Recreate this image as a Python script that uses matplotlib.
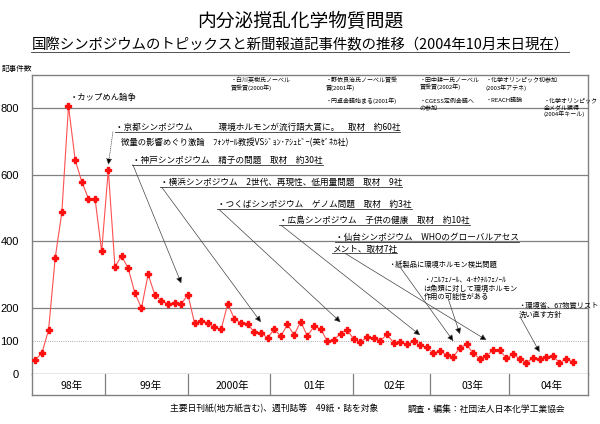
import matplotlib
matplotlib.use('Agg')
import matplotlib.pyplot as plt
from matplotlib.lines import Line2D

# 日本語フォント
plt.rcParams['font.family'] = ['Noto Sans CJK JP', 'DejaVu Sans']

# 月別の新聞報道記事件数 (1998年1月〜2004年10月)
counts = [43, 63, 133, 350, 487, 807, 645, 579, 528, 528, 369, 615,
          323, 355, 318, 244, 198, 300, 239, 220, 211, 214, 211, 239,
          153, 159, 154, 141, 134, 211, 166, 154, 152, 125, 124, 109,
          134, 114, 149, 117, 158, 114, 143, 136, 99, 103, 121, 133,
          104, 96, 111, 107, 100, 119, 94, 95, 89, 98, 86, 80,
          63, 70, 57, 51, 79, 89, 62, 46, 55, 71, 72, 47,
          60, 46, 34, 48, 45, 52, 54, 34, 45, 37]

# 年の欄
year_labels = ['98年', '99年', '2000年', '01年', '02年', '03年', '04年']
year_edges = [-0.5, 10.56, 23.08, 35.4, 47.87, 59.43, 71.34, 83.3]

# y軸目盛
y_ticks = [0, 100, 200, 400, 600, 800]

# シンポジウム (文字, x, y, 矢印先の月, 矢印先の余白, 矢印の始点)
symposia = [
    ('・京都シンポジウム　　　環境ホルモンが流行語大賞に。　取材　約60社', 12.0, 741, 11, 15, (11.7, 729)),
    ('・神戸シンポジウム　精子の問題　取材　約30社', 14.6, 642, 22, 62, (14.7, 630)),
    ('・横浜シンポジウム　2世代、再現性、低用量問題　取材　9社', 18.8, 576, 34, 32, (19.1, 561)),
    ('・つくばシンポジウム　ゲノム問題　取材　約3社', 27.4, 510, 46, 35, (27.7, 495)),
    ('・広島シンポジウム　子供の健康　取材　約10社', 36.8, 462, 58, 31, (37.1, 447)),
    ('・仙台シンポジウム　WHOのグローバルアセス', 45.2, 411, None, 0, None),
    ('メント、取材7社', 44.7, 375, 68, 47, (46.7, 363)),
]

# その他の出来事 (文字, x, y上端, 矢印先の月, 余白, 始点)
notes = [
    ('・紙製品に環境ホルモン検出問題', 53.2, 342, 63, 48, (55.0, 321)),
    ('・ﾉﾆﾙﾌｪﾉｰﾙ、4-ｵｸﾁﾙﾌｪﾉｰﾙ\nは魚類に対して環境ホルモン\n作用の可能性がある', 58.5, 294, 64, 41, (62.2, 228)),
    ('・環境省、67物質リスト\n洗い直す方針', 72.8, 216, 76, 21, (73.1, 171)),
]

# 上段の出来事 (文字, x, y上端)
top_notes = [
    ('・白川英樹氏ノーベル\n賞受賞(2000年)', 29.4, 893),
    ('・野依良治氏ノーベル賞受\n賞(2001年)', 43.7, 893),
    ('・円卓会議始まる(2001年)', 43.7, 831),
    ('・田中耕一氏ノーベル\n賞受賞(2002年)', 57.9, 893),
    ('・CGESS定例会議へ\nの参加', 57.9, 831),
    ('・化学オリンピック初参加\n(2003年アテネ)', 67.8, 893),
    ('・REACH議論', 67.8, 831),
    ('・化学オリンピック\n金メダル獲得\n(2004年キール)', 76.6, 831),
]

fig = plt.figure(figsize=(6, 4.24), dpi=100)
W, H = 600, 424

# 本体のグラフ
ax = fig.add_axes([32 / W, (H - 374) / H, 556 / W, 299 / H])
ax.set_xlim(-0.5, 83.3)
ax.set_ylim(0, 900)
for s in ax.spines.values():
    s.set_color('#808080')
    s.set_linewidth(1)

# 罫線
for g in [200, 400, 600, 800]:
    ax.axhline(g, color='#808080', lw=0.9, zorder=0)
ax.axhline(100, color='#909090', lw=0.6, ls=':', zorder=0)

# 折れ線
ax.plot(range(len(counts)), counts, color='#ff5050', lw=0.8,
        marker='P', ms=4.5, mfc='#ff1010', mec='#ff1010', zorder=3)

ax.set_xticks([])
ax.set_yticks(y_ticks)
ax.set_yticklabels([str(v) for v in y_ticks], fontsize=8,
                   family=['Liberation Sans', 'DejaVu Sans'])
ax.tick_params(axis='y', length=0, pad=9.5)

# 年の欄
ax2 = fig.add_axes([32 / W, (H - 395) / H, 556 / W, 21 / H])
ax2.set_xlim(-0.5, 83.3)
ax2.set_ylim(0, 1)
ax2.set_xticks([])
ax2.set_yticks([])
ax2.spines['top'].set_visible(False)
for s in ['left', 'right', 'bottom']:
    ax2.spines[s].set_color('#808080')
    ax2.spines[s].set_linewidth(1)
for i, lab in enumerate(year_labels):
    if i > 0:
        ax2.axvline(year_edges[i], color='#808080', lw=0.9)
    ax2.text((year_edges[i] + year_edges[i + 1]) / 2 + 0.5, 0.45, lab,
             ha='center', va='center', fontsize=7.5)

# 見出し
fig.text(0.5, 1 - 21 / H, '内分泌撹乱化学物質問題', ha='center', va='center', fontsize=13.5)
sub = fig.text(0.5, 1 - 45 / H, '国際シンポジウムのトピックスと新聞報道記事件数の推移（2004年10月末日現在）',
               ha='center', va='center', fontsize=10.4)
fig.text(2 / W, 1 - 69 / H, '記事件数', ha='left', va='center', fontsize=5.5)

# 出典
fig.text(170 / W, 1 - 409 / H, '主要日刊紙(地方紙含む)、週刊誌等　49紙・誌を対象',
         ha='left', va='center', fontsize=6.3)
fig.text(408 / W, 1 - 409 / H, '調査・編集：社団法人日本化学工業協会',
         ha='left', va='center', fontsize=6.3)

arrow_kw = dict(arrowstyle='-|>', ec='#444444', fc='black', lw=0.5,
                mutation_scale=9, shrinkA=0, shrinkB=0)

ax.text(5.2, 831, '・カップめん論争', fontsize=6, ha='left', va='center')
ax.text(12.9, 696, '微量の影響めぐり激論　ﾌｫﾝｻｰﾙ教授VSｼﾞｮﾝ･ｱｼｭﾋﾞｰ(英ｾﾞﾈｶ社)',
        fontsize=6, ha='left', va='center')

underlined = [sub]
for k, (txt, x, y, idx, gap, start) in enumerate(symposia):
    t = ax.text(x, y, txt, fontsize=6.2, ha='left', va='center')
    underlined.append(t)
    if idx is not None:
        kw = dict(arrow_kw)
        if k == 0:
            kw['linestyle'] = ':'
        ax.annotate('', xy=(idx, counts[idx] + gap), xytext=start, arrowprops=kw)

for txt, x, y, idx, gap, start in notes:
    ax.text(x, y, txt, fontsize=5.2, ha='left', va='top', linespacing=1.05)
    ax.annotate('', xy=(idx, counts[idx] + gap), xytext=start, arrowprops=arrow_kw)

for txt, x, y in top_notes:
    ax.text(x, y, txt, fontsize=4.3, ha='left', va='top', linespacing=1.15)

# 下線
fig.canvas.draw()
r = fig.canvas.get_renderer()
inv = fig.transFigure.inverted()
for t in underlined:
    bb = t.get_window_extent(r).transformed(inv)
    fig.add_artist(Line2D([bb.x0, bb.x1], [bb.y0 + 0.001] * 2, color='#333333', lw=0.6))

fig.savefig('out.png', dpi=100)
